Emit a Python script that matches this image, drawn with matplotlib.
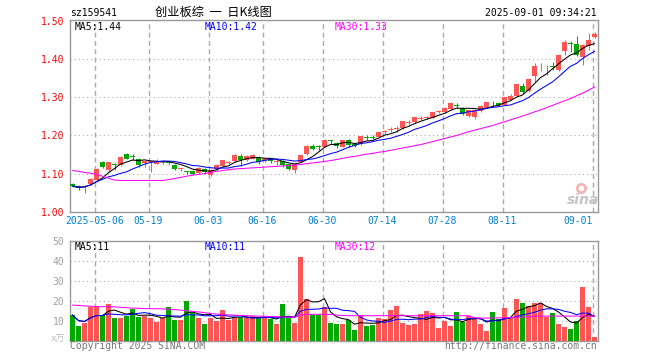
import matplotlib
matplotlib.use("Agg")
import matplotlib.pyplot as plt
import numpy as np
import pandas as pd

# 创业板综 (sz159541) daily K-line, 88 sessions 2025-04-25 .. 2025-09-01
opens = [1.072, 1.067, 1.064, 1.072, 1.084, 1.130, 1.110, 1.124, 1.122, 1.151,
         1.145, 1.138, 1.128, 1.130, 1.126, 1.131, 1.133, 1.123, 1.113, 1.106,
         1.108, 1.101, 1.113, 1.097, 1.111, 1.120, 1.128, 1.133, 1.147, 1.136,
         1.139, 1.142, 1.133, 1.140, 1.130, 1.133, 1.125, 1.110, 1.131, 1.151,
         1.173, 1.170, 1.171, 1.188, 1.180, 1.171, 1.187, 1.177, 1.177, 1.196,
         1.195, 1.197, 1.209, 1.214, 1.218, 1.219, 1.233, 1.235, 1.243, 1.245,
         1.246, 1.262, 1.261, 1.270, 1.279, 1.272, 1.250, 1.249, 1.264, 1.273,
         1.286, 1.286, 1.280, 1.293, 1.304, 1.330, 1.317, 1.355, 1.381, 1.381,
         1.382, 1.372, 1.422, 1.441, 1.440, 1.405, 1.436, 1.458]
highs = [1.075, 1.069, 1.069, 1.088, 1.114, 1.132, 1.131, 1.128, 1.146, 1.154,
         1.151, 1.140, 1.134, 1.132, 1.137, 1.136, 1.134, 1.125, 1.115, 1.107,
         1.110, 1.116, 1.115, 1.112, 1.124, 1.136, 1.133, 1.151, 1.152, 1.149,
         1.151, 1.145, 1.141, 1.142, 1.137, 1.135, 1.126, 1.126, 1.150, 1.175,
         1.178, 1.176, 1.190, 1.189, 1.184, 1.189, 1.190, 1.180, 1.199, 1.202,
         1.200, 1.210, 1.215, 1.221, 1.226, 1.238, 1.241, 1.249, 1.250, 1.252,
         1.262, 1.268, 1.274, 1.287, 1.284, 1.274, 1.268, 1.270, 1.279, 1.289,
         1.291, 1.288, 1.302, 1.310, 1.336, 1.337, 1.350, 1.390, 1.390, 1.384,
         1.394, 1.413, 1.450, 1.449, 1.460, 1.440, 1.468, 1.471]
lows = [1.064, 1.058, 1.050, 1.071, 1.082, 1.114, 1.105, 1.110, 1.120, 1.137,
        1.136, 1.118, 1.117, 1.105, 1.124, 1.126, 1.125, 1.110, 1.106, 1.100,
        1.097, 1.099, 1.100, 1.094, 1.110, 1.118, 1.124, 1.131, 1.121, 1.134,
        1.137, 1.126, 1.131, 1.128, 1.122, 1.116, 1.109, 1.101, 1.130, 1.150,
        1.163, 1.161, 1.170, 1.178, 1.167, 1.169, 1.171, 1.170, 1.175, 1.188,
        1.190, 1.196, 1.205, 1.208, 1.210, 1.218, 1.228, 1.233, 1.240, 1.242,
        1.245, 1.258, 1.260, 1.268, 1.273, 1.255, 1.248, 1.243, 1.262, 1.271,
        1.276, 1.278, 1.279, 1.292, 1.303, 1.308, 1.315, 1.341, 1.368, 1.359,
        1.372, 1.370, 1.410, 1.420, 1.408, 1.386, 1.425, 1.457]
closes = [1.067, 1.061, 1.067, 1.086, 1.113, 1.116, 1.130, 1.122, 1.144, 1.139,
          1.143, 1.122, 1.132, 1.131, 1.134, 1.133, 1.128, 1.112, 1.114, 1.105,
          1.100, 1.114, 1.103, 1.110, 1.123, 1.135, 1.130, 1.149, 1.135, 1.147,
          1.149, 1.131, 1.139, 1.134, 1.134, 1.123, 1.111, 1.125, 1.149, 1.173,
          1.165, 1.169, 1.189, 1.186, 1.172, 1.187, 1.176, 1.173, 1.198, 1.194,
          1.193, 1.208, 1.211, 1.216, 1.220, 1.237, 1.235, 1.248, 1.245, 1.247,
          1.261, 1.264, 1.272, 1.285, 1.277, 1.257, 1.266, 1.268, 1.277, 1.287,
          1.284, 1.280, 1.301, 1.304, 1.334, 1.313, 1.348, 1.381, 1.383, 1.383,
          1.380, 1.411, 1.444, 1.439, 1.410, 1.438, 1.451, 1.467]
# volume (万手)
volumes = [12.8, 7.3, 8.7, 17.0, 17.0, 12.8, 18.3, 11.5, 11.5, 12.3,
           15.8, 12.0, 12.3, 11.3, 9.5, 11.5, 16.8, 10.5, 10.5, 20.0,
           14.5, 11.5, 8.3, 11.5, 10.0, 15.3, 10.3, 11.5, 11.5, 11.5,
           12.3, 11.5, 11.5, 10.7, 8.3, 18.3, 12.3, 9.0, 42.0, 20.8,
           12.8, 12.8, 16.8, 9.0, 8.3, 8.3, 10.3, 5.3, 12.8, 7.3,
           7.8, 11.5, 10.8, 15.3, 17.3, 9.0, 7.8, 8.3, 13.3, 14.8,
           14.0, 6.3, 10.0, 7.3, 14.3, 9.5, 12.3, 11.5, 8.3, 5.0,
           14.3, 10.7, 16.3, 11.8, 20.8, 18.8, 17.3, 18.8, 18.8, 12.0,
           13.8, 8.3, 6.8, 5.8, 9.8, 26.8, 16.8, 1.8]
# 30-day averages as drawn (they need history before the first session)
ma30_price = [1.108, 1.106, 1.103, 1.101, 1.098, 1.093, 1.088, 1.083, 1.082, 1.082,
              1.082, 1.082, 1.082, 1.082, 1.082, 1.082, 1.084, 1.087, 1.090, 1.093,
              1.096, 1.098, 1.100, 1.103, 1.106, 1.108, 1.110, 1.112, 1.113, 1.114,
              1.115, 1.116, 1.117, 1.118, 1.119, 1.120, 1.121, 1.122, 1.124, 1.126,
              1.128, 1.130, 1.132, 1.134, 1.137, 1.140, 1.143, 1.145, 1.148, 1.151,
              1.153, 1.156, 1.158, 1.161, 1.164, 1.167, 1.170, 1.173, 1.176, 1.180,
              1.184, 1.188, 1.192, 1.196, 1.200, 1.205, 1.210, 1.214, 1.218, 1.222,
              1.226, 1.231, 1.236, 1.241, 1.246, 1.251, 1.256, 1.262, 1.267, 1.273,
              1.279, 1.285, 1.291, 1.297, 1.304, 1.311, 1.319, 1.327]
ma30_volume = [17.8, 17.6, 17.4, 17.2, 17.1, 17.0, 17.0, 16.9, 16.7, 16.5,
               16.3, 16.2, 16.1, 16.0, 16.0, 15.9, 15.7, 15.6, 15.3, 15.0,
               14.6, 14.4, 14.0, 13.6, 13.3, 13.1, 12.9, 12.8, 12.6, 12.5,
               12.4, 12.3, 12.2, 12.1, 12.0, 11.9, 11.8, 11.7, 12.8, 13.1,
               13.2, 13.2, 13.2, 13.1, 12.8, 12.6, 12.5, 12.5, 12.5, 12.5,
               12.5, 12.5, 12.5, 12.5, 12.5, 12.5, 12.5, 12.5, 12.5, 12.5,
               12.5, 12.5, 12.5, 12.5, 12.5, 12.5, 12.5, 11.5, 11.3, 11.3,
               11.4, 11.4, 11.5, 11.6, 11.7, 11.8, 12.0, 12.2, 12.3, 12.3,
               12.3, 12.3, 12.3, 12.3, 12.3, 12.3, 12.3, 12.3]

date_ticks = [4, 13, 23, 32, 42, 52, 62, 72, 87]
date_labels = ['2025-05-06', '05-19', '06-03', '06-16', '06-30',
               '07-14', '07-28', '08-11', '09-01']
price_ticks = [1.00, 1.10, 1.20, 1.30, 1.40, 1.50]
vol_ticks = [10, 20, 30, 40, 50]

RED = '#ff5555'
GREEN = '#00a800'
GRID = '#aaaaaa'
MONO = 'DejaVu Sans Mono'
CJK = ['Noto Sans CJK SC', 'DejaVu Sans']
LW = 0.75  # about one pixel

W, H = 660, 360
fig = plt.figure(figsize=(W / 100, H / 100), dpi=100)
ax = fig.add_axes([70 / W, 1 - 211.7 / H, 528 / W, 191.7 / H])
axv = fig.add_axes([70 / W, 1 - 340.7 / H, 528 / W, 100 / H])

x = np.arange(len(closes))
o = np.array(opens)
c = np.array(closes)
colors = np.where(c >= o, RED, GREEN)

# candles
ax.vlines(x, lows, highs, colors=colors, linewidth=LW, zorder=3)
ax.bar(x, np.maximum(np.abs(c - o), 0.0025), bottom=np.minimum(o, c),
       width=0.83, color=colors, linewidth=0, zorder=3)
close_s = pd.Series(closes)
ax.plot(x, close_s.rolling(5, min_periods=1).mean(), color='black', lw=LW, zorder=4)
ax.plot(x, close_s.rolling(10, min_periods=1).mean(), color='#0000ff', lw=LW, zorder=4)
ax.plot(x, ma30_price, color='#ff00ff', lw=LW, zorder=4)

# volume
axv.bar(x, volumes, width=0.83, color=colors, linewidth=0, zorder=3)
vol_s = pd.Series(volumes)
axv.plot(x, vol_s.rolling(5, min_periods=1).mean(), color='black', lw=LW, zorder=4)
axv.plot(x, vol_s.rolling(10, min_periods=1).mean(), color='#0000ff', lw=LW, zorder=4)
axv.plot(x, ma30_volume, color='#ff00ff', lw=LW, zorder=4)

grid_x = [t - 0.33 for t in date_ticks]
for a, hlines in ((ax, price_ticks[1:-1]), (axv, vol_ticks[:-1])):
    a.set_xlim(-0.42, len(closes) - 0.42)
    for y in hlines:
        a.axhline(y, color=GRID, lw=LW, ls=(0, (1, 3)), zorder=1)
    for gx in grid_x:
        a.axvline(gx, color=GRID, lw=1, ls=(0, (3.5, 2.5)), zorder=1)
    for s in a.spines.values():
        s.set_color('#999999')
        s.set_linewidth(1)
    a.tick_params(length=0, pad=4)

ax.set_ylim(1.0, 1.503)
ax.set_yticks(price_ticks, [f'{v:.2f}' for v in price_ticks],
              color='red', fontsize=7, family=MONO)
ax.set_xticks(grid_x, date_labels, color='#0080d0', fontsize=7, family=MONO)
ax.tick_params(axis='x', pad=3)
ax.get_xticklabels()[-1].set_ha('right')

axv.set_ylim(0, 50)
axv.set_yticks(vol_ticks, [str(v) for v in vol_ticks],
               color='#a0a0a0', fontsize=7, family=MONO)
axv.set_xticks(grid_x, [])


def ftext(px, py, s, **kw):
    kw.setdefault('fontsize', 7)
    kw.setdefault('family', MONO)
    kw.setdefault('va', 'center')
    fig.text(px / W, 1 - py / H, s, **kw)


ftext(70, 13, 'sz159541')
ftext(213, 12.5, '创业板综  一  日K线图', ha='center', fontsize=8.8, family=CJK)
ftext(597, 12.5, '2025-09-01 09:34:21', ha='right')

ftext(75, 26.5, 'MA5:1.44', color='black')
ftext(205, 26.5, 'MA10:1.42', color='#0000ff')
ftext(335, 26.5, 'MA30:1.33', color='#ff00ff')
ftext(75, 246.5, 'MA5:11', color='black')
ftext(205, 246.5, 'MA10:11', color='#0000ff')
ftext(335, 246.5, 'MA30:12', color='#ff00ff')

ftext(65, 339, 'x万', ha='right', color='#bbbbbb', fontsize=6.5,
      family=[MONO, 'Noto Sans CJK SC'])
ftext(70, 346, 'Copyright 2025 SINA.COM', color='#777777')
ftext(597, 346, 'http://finance.sina.com.cn', ha='right', color='#777777')

# sina watermark
ax.text(0.972, 0.06, 'sina', transform=ax.transAxes, ha='center', va='center',
        fontsize=10, fontweight='bold', style='italic', color='#c4c4c4', zorder=2)
ax.plot([0.968], [0.125], 'o', transform=ax.transAxes, mfc='none',
        mec='#f2b4b4', ms=6, mew=2, zorder=2)

fig.savefig('out.png', dpi=100)
